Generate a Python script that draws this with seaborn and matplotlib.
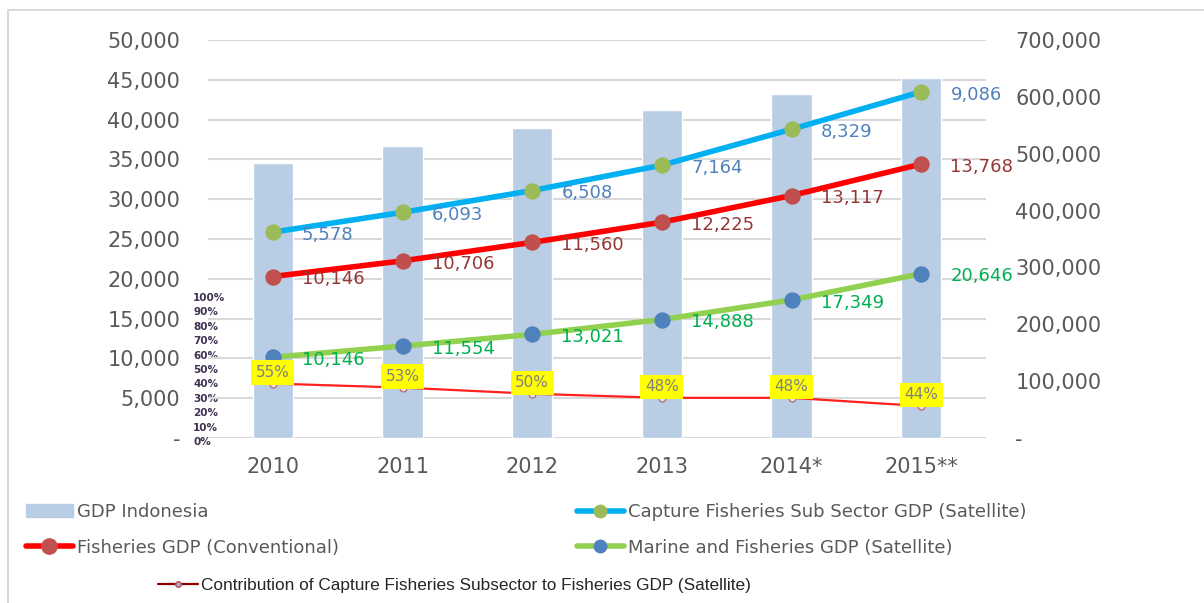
import numpy as np
import pandas as pd
import matplotlib.pyplot as plt
from matplotlib.lines import Line2D
from matplotlib.patches import Patch
from matplotlib.ticker import FuncFormatter, MultipleLocator
import seaborn as sns

years = ['2010', '2011', '2012', '2013', '2014*', '2015**']
gdp_indonesia = [483600, 513500, 545200, 576900, 605000, 633700]
marine_fisheries = [10146, 11554, 13021, 14888, 17349, 20646]
fisheries_conv = [10146, 10706, 11560, 12225, 13117, 13768]
capture_sub = [5578, 6093, 6508, 7164, 8329, 9086]
contribution = [55, 53, 50, 48, 48, 44]
pct_ticks = list(range(0, 101, 10))

sns.set_style('white')
plt.rcParams['font.family'] = ['DejaVu Sans']

df = pd.DataFrame({
    'year': years,
    'gdp': gdp_indonesia,
    'marine': marine_fisheries,
    'fisheries': fisheries_conv,
    'capture': capture_sub,
    'contrib': contribution,
})
df['pos'] = np.arange(len(df))
# the original Excel chart stacks the three lines on top of each other
df['green_top'] = df['marine']
df['red_top'] = df['marine'] + df['fisheries']
df['blue_top'] = df['red_top'] + df['capture']

GREY = '#595959'

fig = plt.figure(figsize=(12.04, 6.03), dpi=100)
ax = fig.add_axes([0.1728, 0.2736, 0.6462, 0.660])
axb = ax.twinx()
axp = ax.twinx()
axb.set_zorder(1)
ax.set_zorder(2)
axp.set_zorder(3)
ax.patch.set_visible(False)
axp.patch.set_visible(False)

# bars (right axis)
sns.barplot(data=df, x='pos', y='gdp', ax=axb, native_scale=True,
            color='#b9cde5', saturation=1, width=0.31)
axb.set_ylim(0, 700000)
axb.yaxis.set_major_locator(MultipleLocator(100000))
axb.yaxis.set_major_formatter(FuncFormatter(lambda v, p: '-' if v == 0 else f'{v:,.0f}'))
axb.yaxis.set_minor_locator(MultipleLocator(70000))
axb.yaxis.remove_overlapping_locs = False
axb.grid(which='minor', axis='y', color='#d9d9d9', lw=1.5)
axb.grid(which='major', visible=False)
axb.set_axisbelow(True)
axb.tick_params(axis='y', which='both', length=0, pad=21, labelsize=15, labelcolor=GREY)
axb.set_ylabel('')

# stacked lines (left axis)
series = [
    ('blue_top', 'capture', '#00b0f0', '#9bbb59', '#4f81bd'),
    ('red_top', 'fisheries', '#ff0000', '#c0504d', '#953735'),
    ('green_top', 'marine', '#92d050', '#4f81bd', '#00b050'),
]
for top, raw, lc, mc, tc in series:
    sns.lineplot(data=df, x='pos', y=top, ax=ax, color=lc, lw=4,
                 marker='o', markersize=11, markerfacecolor=mc, markeredgecolor=mc)
    for p, y, v in zip(df['pos'], df[top], df[raw]):
        ax.annotate(f'{v:,}', xy=(p, y), xytext=(21, -2), textcoords='offset points',
                    ha='left', va='center', fontsize=13, color=tc)

ax.set_ylim(0, 50000)
ax.set_xlim(-0.5, len(years) - 0.5)
ax.yaxis.set_major_locator(MultipleLocator(5000))
ax.yaxis.set_major_formatter(FuncFormatter(lambda v, p: '-' if v == 0 else f'{v:,.0f}'))
ax.set_xticks(df['pos'], years)
ax.tick_params(axis='y', length=0, pad=20, labelsize=15, labelcolor=GREY)
ax.tick_params(axis='x', length=0, pad=14, labelsize=15, labelcolor=GREY)
ax.set_xlabel('')
ax.set_ylabel('')

# contribution share (hidden third axis)
sns.lineplot(data=df, x='pos', y='contrib', ax=axp, color='#ff2020', lw=1.6,
             marker='o', markersize=5, markerfacecolor='#dbe5f1', markeredgecolor='#c0504d')
axp.set_ylim(28.35, 223)
axp.set_yticks([])
axp.set_ylabel('')
for p, v in zip(df['pos'], df['contrib']):
    axp.annotate(f'{v}%', xy=(p, v), xytext=(0, 8), textcoords='offset points',
                 ha='center', va='center', fontsize=11, color='#808080',
                 bbox=dict(boxstyle='square,pad=0.3', fc='#ffff00', ec='none'))

for a in (ax, axb, axp):
    for s in a.spines.values():
        s.set_visible(False)

# small 0-100% scale drawn inside the plot
axs = fig.add_axes([193 / 1204 - 0.0005, 1 - 441 / 603, 0.0005, 144 / 603])
axs.set_ylim(0, 100)
axs.yaxis.tick_right()
axs.set_yticks(pct_ticks, [f'{t}%' for t in pct_ticks])
axs.tick_params(axis='y', length=0, pad=0, labelsize=7.5, labelcolor='#403152')
for lab in axs.get_yticklabels():
    lab.set_fontweight('bold')
axs.xaxis.set_visible(False)
axs.patch.set_visible(False)
for s in axs.spines.values():
    s.set_visible(False)

# legends
h_bar = Patch(color='#b9cde5')
h_cap = Line2D([], [], color='#00b0f0', lw=4, marker='o', markersize=9,
               markerfacecolor='#9bbb59', markeredgecolor='#9bbb59')
h_fish = Line2D([], [], color='#ff0000', lw=4, marker='o', markersize=11,
                markerfacecolor='#c0504d', markeredgecolor='#c0504d')
h_mar = Line2D([], [], color='#92d050', lw=4, marker='o', markersize=9,
               markerfacecolor='#4f81bd', markeredgecolor='#4f81bd')
h_con = Line2D([], [], color='#8b0000', lw=1.6, marker='o', markersize=4,
               markerfacecolor='#8db3e2', markeredgecolor='#c0504d')

leg_kw = dict(frameon=False, fontsize=13, handlelength=2.6, handletextpad=0.25,
              borderpad=0, borderaxespad=0, labelspacing=0.97, labelcolor=GREY)
leg1 = fig.legend([h_bar, h_fish], ['GDP Indonesia', 'Fisheries GDP (Conventional)'],
                  loc='upper left', bbox_to_anchor=(26 / 1204, 1 - 503 / 603), **leg_kw)
leg2 = fig.legend([h_cap, h_mar], ['Capture Fisheries Sub Sector GDP (Satellite)',
                                   'Marine and Fisheries GDP (Satellite)'],
                  loc='upper left', bbox_to_anchor=(577 / 1204, 1 - 503 / 603), **leg_kw)
leg3 = fig.legend([h_con], ['Contribution of Capture Fisheries Subsector to Fisheries GDP (Satellite)'],
                  loc='center left', bbox_to_anchor=(158 / 1204, 1 - 585 / 603),
                  frameon=False, handlelength=2.3, handletextpad=0.2, borderpad=0,
                  borderaxespad=0,
                  prop={'family': ['Liberation Sans'], 'size': 12.4})

# outer frame lines
fig.add_artist(Line2D([8 / 1204, 8 / 1204], [0, 1 - 10 / 603], transform=fig.transFigure,
                      color='#d9d9d9', lw=1.5))
fig.add_artist(Line2D([8 / 1204, 1], [1 - 10 / 603, 1 - 10 / 603], transform=fig.transFigure,
                      color='#d9d9d9', lw=1.5))

fig.savefig('out.png', dpi=100)
